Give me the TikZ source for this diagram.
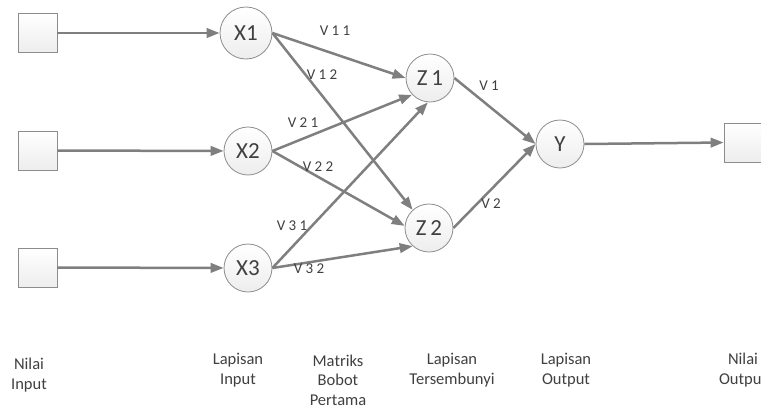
\documentclass[tikz,border=0pt]{standalone}
\usepackage{fontspec}
\setmainfont{Carlito}
\usetikzlibrary{arrows.meta}
\definecolor{wire}{HTML}{7F7F7F}
\definecolor{edge}{HTML}{8C8C8C}
\definecolor{ink}{HTML}{404040}
\tikzset{
  unitbox/.style={draw=edge, line width=0.8pt, top color=white, bottom color=black!7,
    minimum size=39pt, inner sep=0pt},
  neuron/.style={circle, draw=edge, line width=0.8pt, top color=white, bottom color=black!7,
    minimum size=48pt, inner sep=0pt, text=ink, font=\fontsize{23}{26}\selectfont},
  link/.style={draw=wire, line width=2.5pt, -{Triangle[length=13pt,width=9.5pt]}},
  wlabel/.style={text=ink, font=\fontsize{15}{18}\selectfont, inner sep=0pt},
  caption/.style={text=ink, align=center, font=\fontsize{16.5}{19.5}\selectfont, inner sep=0pt}
}
\begin{document}
\begin{tikzpicture}[x=1pt,y=-1pt]
\useasboundingbox (0,0) rectangle (761,408);
\begin{scope}
\clip (0,0) rectangle (761,408);

% input values
\node[unitbox] (b1) at (37.5,33) {};
\node[unitbox] (b2) at (37.5,150.5) {};
\node[unitbox] (b3) at (37.5,267.5) {};

% input layer
\node[neuron, minimum size=52pt] (x1) at (246,33) {X1};
\node[neuron] (x2) at (248,151) {X2};
\node[neuron] (x3) at (248,268) {X3};

% hidden layer
\node[neuron] (z1) at (430,78) {Z\,1};
\node[neuron] (z2) at (429,228) {Z\,2};

% output layer
\node[neuron] (y) at (560,144) {Y};
\node[unitbox] (out) at (743.5,142.5) {};

% connections
\draw[link] (b1) -- (x1);
\draw[link] (b2) -- (x2);
\draw[link] (b3) -- (x3);

\draw[link] (x1.east) -- (z1.west);
\draw[link] (x1.east) -- (z2.132);
\draw[link] (x2.east) -- (z1.223);
\draw[link] (x2.east) -- (z2.175);
\draw[link] (x3.east) -- (z1.265);
\draw[link] (x3.east) -- (z2.228);

\draw[link] (z1.east) -- (y.west);
\draw[link] (z2.east) -- (y.west);
\draw[link] (y.east) -- (out.west);

% weight labels
\node[wlabel] (v11) at (335,31) {V 1 1};
\node[wlabel] (v12) at (322,75) {V 1 2};
\node[wlabel] (v21) at (303,123) {V 2 1};
\node[wlabel] (v22) at (318,167) {V 2 2};
\node[wlabel] (v31) at (292,226) {V 3 1};
\node[wlabel] (v32) at (309,269) {V 3 2};
\node[wlabel] (v1) at (489,86) {V 1};
\node[wlabel] (v2) at (491,204) {V 2};

% layer captions
\node[caption] (c1) at (29,375) {Nilai\\Input};
\node[caption] (c2) at (238,370) {Lapisan\\Input};
\node[caption] (c3) at (338,380) {Matriks\\Bobot\\Pertama};
\node[caption] (c4) at (452,370) {Lapisan\\Tersembunyi};
\node[caption] (c5) at (566,370) {Lapisan\\Output};
\node[caption] (c6) at (743,370) {Nilai\\Output};
\end{scope}
\end{tikzpicture}
\end{document}
